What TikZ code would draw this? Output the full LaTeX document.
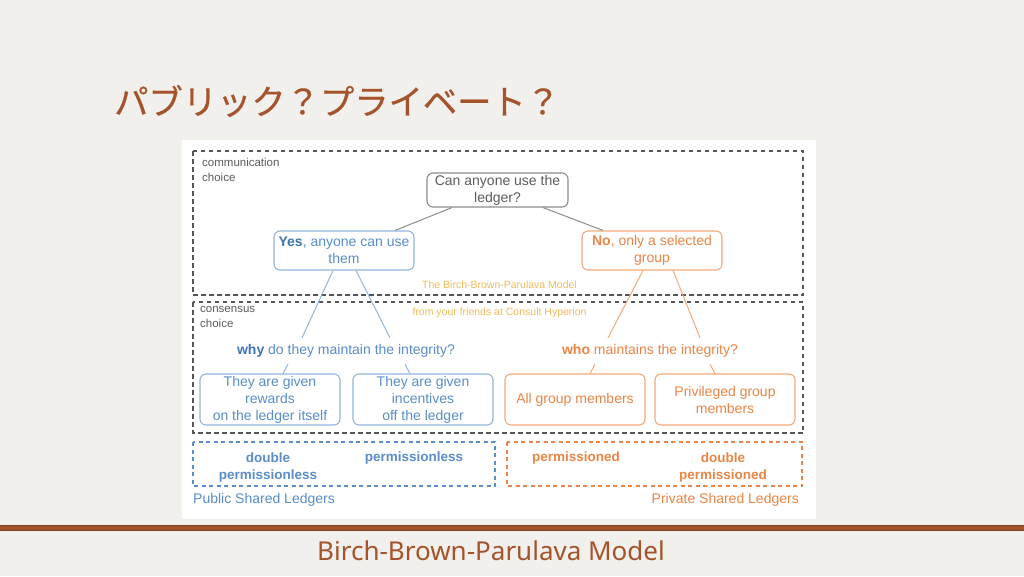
\documentclass[tikz,border=0pt]{standalone}
\usepackage{fontspec}
\setmainfont{Liberation Sans}
\newfontfamily\cjk[FakeBold=0.6]{Noto Sans CJK JP}
\newfontfamily\footfont{Noto Sans}
\definecolor{bgc}{HTML}{F2F0EC}
\definecolor{brownc}{HTML}{A4532B}
\definecolor{brownline}{HTML}{A0522D}
\definecolor{bluet}{HTML}{5A8DC9}
\definecolor{blueb}{HTML}{3F74B6}
\definecolor{bluebd}{HTML}{92B6DE}
\definecolor{oranget}{HTML}{EA8546}
\definecolor{orangebd}{HTML}{F3A97C}
\definecolor{grayt}{HTML}{5C5C5C}
\definecolor{graybd}{HTML}{8C8C8C}
\definecolor{dashc}{HTML}{555555}
\definecolor{yellowt}{HTML}{F0BC5A}
\tikzset{
  base/.style={font=\fontsize{14}{17}\selectfont, align=center, inner sep=0pt},
  qbox/.style={base, draw=graybd, line width=1.1pt, rounded corners=6pt, text=grayt},
  bbox/.style={base, draw=bluebd, line width=1.1pt, rounded corners=6pt, text=bluet, minimum width=140pt},
  obox/.style={base, draw=orangebd, line width=1.1pt, rounded corners=6pt, text=oranget, minimum width=140pt},
  gline/.style={draw=graybd, line width=1pt},
  bline/.style={draw=bluebd, line width=1pt},
  oline/.style={draw=orangebd, line width=1pt},
  dbox/.style={draw=dashc, line width=2.4pt, dash pattern=on 4.5pt off 3.5pt},
  bdbox/.style={draw=bluet, line width=2pt, dash pattern=on 4pt off 3.5pt},
  odbox/.style={draw=oranget, line width=2pt, dash pattern=on 4pt off 3.5pt},
  small/.style={font=\fontsize{11.5}{15}\selectfont, text=grayt, align=left, inner sep=0pt},
  yel/.style={font=\fontsize{10.5}{12}\selectfont, text=yellowt, inner sep=0pt},
  ledg/.style={font=\fontsize{13.5}{17}\selectfont\bfseries, align=center, inner sep=0pt},
}
\begin{document}
\begin{tikzpicture}[x=1pt,y=-1pt]
\useasboundingbox (0,0) rectangle (1024,576);
\fill[bgc] (0,0) rectangle (1024,576);
\fill[white] (182,140) rectangle (816,519);
\fill[brownline] (0,525) rectangle (1024,531);
\draw[brownline!80!black, line width=0.6pt] (0,525.3) -- (1024,525.3) (0,530.7) -- (1024,530.7);

% title and footer
\node[anchor=west, inner sep=0pt, text=brownc, font=\cjk\fontsize{34.3}{36}\selectfont] (title) at (114,101) {パブリック？プライベート？};
\node[inner sep=0pt, text=brownc, font=\footfont\fontsize{26}{30}\selectfont] (footer) at (491,551) {Birch-Brown-Parulava Model};

% dashed regions
\draw[dbox] (193,151) rectangle (803,295);
\draw[dbox] (193,302) rectangle (803,433);
\draw[bdbox] (193,442) rectangle (495,486);
\draw[odbox] (507,442) rectangle (802,486);

\node[small, anchor=north west] (comm) at (202,158) {communication\\choice};
\node[small, anchor=north west] (cons) at (200,306) {consensus\\choice};
\node[yel] (bbp) at (499.5,285) {The Birch-Brown-Parulava Model};
\node[yel] (friends) at (499.5,313) {from your friends at Consult Hyperion};

% tree
\node[qbox, minimum width=141pt, minimum height=34pt] (can) at (497.5,190) {Can anyone use the\\ledger?};
\node[bbox, minimum height=39pt] (yes) at (344,250.5) {\textcolor{blueb}{\bfseries Yes}, anyone can use\\them};
\node[obox, minimum height=39pt] (no) at (652,250.5) {\textbf{No}, only a selected\\group};

\node[base, text=bluet, minimum height=26pt] (why) at (346,351) {\textcolor{blueb}{\bfseries why} do they maintain the integrity?};
\node[base, text=oranget, minimum height=26pt] (who) at (650,351) {\textbf{who} maintains the integrity?};

\node[bbox, minimum height=51pt] (r1) at (270,399.5) {They are given\\rewards\\on the ledger itself};
\node[bbox, minimum height=51pt] (r2) at (423,399.5) {They are given\\incentives\\off the ledger};
\node[obox, minimum height=51pt] (a1) at (575,399.5) {All group members};
\node[obox, minimum height=51pt] (a2) at (725,399.5) {Privileged group\\members};

\draw[gline] ([xshift=-45.5pt]can.south) -- ([xshift=51pt]yes.north);
\draw[gline] ([xshift=45.5pt]can.south) -- ([xshift=-49pt]no.north);

\draw[bline] ([xshift=-11pt]yes.south) -- ([xshift=-44pt]why.north);
\draw[bline] ([xshift=12pt]yes.south) -- ([xshift=44pt]why.north);
\draw[bline] ([xshift=-58pt]why.south) -- ([xshift=13pt]r1.north);
\draw[bline] ([xshift=59pt]why.south) -- ([xshift=-13pt]r2.north);

\draw[oline] ([xshift=-9pt]no.south) -- ([xshift=-42pt]who.north);
\draw[oline] ([xshift=21pt]no.south) -- ([xshift=50pt]who.north);
\draw[oline] ([xshift=-55pt]who.south) -- ([xshift=15pt]a1.north);
\draw[oline] ([xshift=60pt]who.south) -- ([xshift=-10pt]a2.north);

% ledger types
\node[ledg, text=bluet] (dpl) at (268,467) {double\\permissionless};
\node[ledg, text=bluet] (pl) at (414,458.5) {permissionless};
\node[ledg, text=oranget] (pd) at (576,458.5) {permissioned};
\node[ledg, text=oranget] (dpd) at (723,467) {double\\permissioned};
\node[anchor=west, inner sep=0pt, text=bluet, font=\fontsize{14}{15}\selectfont] (pub) at (193,499.5) {Public Shared Ledgers};
\node[anchor=east, inner sep=0pt, text=oranget, font=\fontsize{14}{15}\selectfont] (priv) at (799,499.5) {Private Shared Ledgers};
\end{tikzpicture}
\end{document}
